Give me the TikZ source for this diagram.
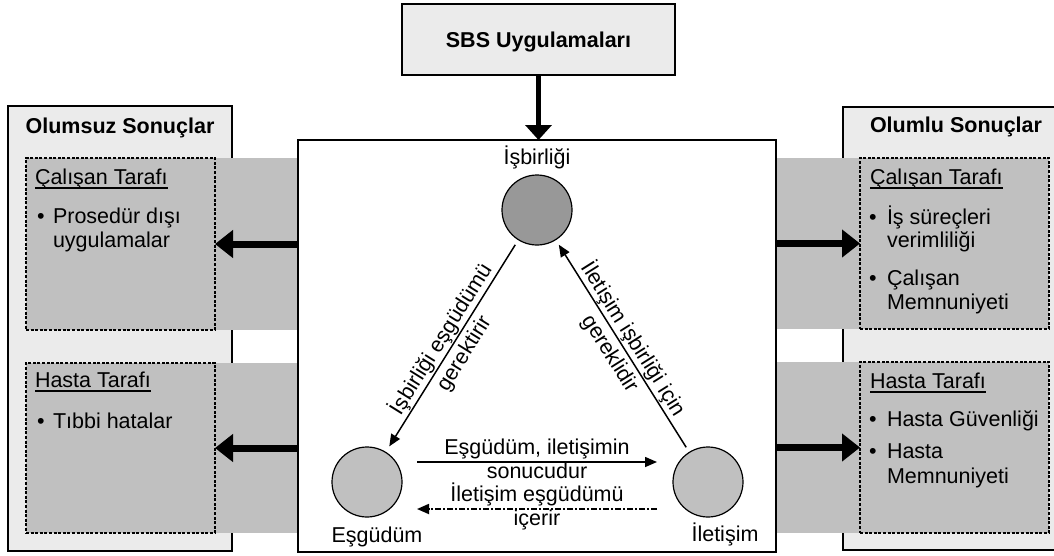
\documentclass[tikz,border=0pt]{standalone}
\usepackage{fontspec}
\setmainfont{Liberation Sans}
\usetikzlibrary{arrows.meta}

\definecolor{panelgray}{RGB}{235,235,235}
\definecolor{bandgray}{RGB}{192,192,192}
\definecolor{hubgray}{RGB}{152,152,152}
\definecolor{nodegray}{RGB}{192,192,192}

\begin{document}
\begin{tikzpicture}[x=1pt,y=-1pt,
  every node/.style={font=\fontsize{21.5}{24}\selectfont, inner sep=0pt, outer sep=0pt},
  panel/.style={draw, line width=2.8pt, fill=panelgray},
  sidebox/.style={draw, line width=2pt, dash pattern=on 3pt off 1.6pt, fill=bandgray, minimum width=189pt},
  band/.style={fill=bandgray},
  hub/.style={circle, draw, line width=1.2pt, minimum size=70pt},
  txt/.style={anchor=base west},
  ctxt/.style={anchor=base},
  paneltitle/.style={font=\fontsize{21.5}{24}\selectfont\bfseries, anchor=base},
  fatarrow/.style={line width=7pt, -{Triangle[length=18pt,width=27pt]}},
  relarrow/.style={line width=1.5pt, -{Triangle[length=12pt,width=10pt]}},
  slopelabel/.style={sloped, align=center, font=\fontsize{21.5}{27}\selectfont},
  ulrule/.style={line width=1.4pt},
]
\useasboundingbox (0,0) rectangle (1054,555);
\clip (0,0) rectangle (1054,555);

% outcome panels
\node[panel, minimum width=224pt, minimum height=445pt] (negpanel) at (120,328.5) {};
\node[panel, minimum width=225pt, minimum height=443pt] (pospanel) at (955.5,328.5) {};

% grey bands joining the core box to the outcome boxes
\fill[band] (120,158) rectangle (298,330);
\fill[band] (120,363) rectangle (298,533);
\fill[band] (776,158) rectangle (955,329);
\fill[band] (776,362) rectangle (955,533);

% core box
\node[draw, line width=2.8pt, fill=white, minimum width=478pt, minimum height=412pt] (core) at (537,346) {};

% outcome sub-boxes
\node[sidebox, minimum height=172pt] (negstaff) at (120.5,244) {};
\node[sidebox, minimum height=170pt] (negpat) at (120.5,448) {};
\node[sidebox, minimum height=171pt] (posstaff) at (954.5,243.5) {};
\node[sidebox, minimum height=171pt] (pospat) at (954.5,447.5) {};

% source box
\node[panel, minimum width=273pt, minimum height=71pt, text depth=0pt,
      font=\fontsize{21.5}{24}\selectfont\bfseries] (sbs) at (538.5,39.5) {SBS Uygulamaları};
\draw[line width=5pt, -{Triangle[length=15pt,width=26pt]}] (sbs.south) -- (sbs.south |- core.north);

% outcome arrows
\draw[fatarrow] (core.west |- negstaff.east) -- (negstaff.east);
\draw[fatarrow] (core.west |- negpat.east) -- (negpat.east);
\draw[fatarrow] (core.east |- posstaff.west) -- (posstaff.west);
\draw[fatarrow] (core.east |- pospat.west) -- (pospat.west);

% panel titles
\node[paneltitle] (negtitle) at (120,133) {Olumsuz Sonuçlar};
\node[paneltitle] (postitle) at (956,132) {Olumlu Sonuçlar};

% negative outcomes
\node[txt] (negstaffh) at (35,184) {Çalışan Tarafı};
\draw[ulrule] ([yshift=-4pt]negstaffh.base west) -- ([yshift=-4pt]negstaffh.base east);
\node[txt] (nb1) at (37,223) {•};
\node[txt] (ni1a) at (53,223) {Prosedür dışı};
\node[txt] (ni1b) at (53,247) {uygulamalar};
\node[txt] (negpath) at (35,387) {Hasta Tarafı};
\draw[ulrule] ([yshift=-4pt]negpath.base west) -- ([yshift=-4pt]negpath.base east);
\node[txt] (nb2) at (37,428) {•};
\node[txt] (ni2) at (53,428) {Tıbbi hatalar};

% positive outcomes
\node[txt] (posstaffh) at (870,184) {Çalışan Tarafı};
\draw[ulrule] ([yshift=-4pt]posstaffh.base west) -- ([yshift=-4pt]posstaffh.base east);
\node[txt] (pb1) at (869,224) {•};
\node[txt] (pi1a) at (887,224) {İş süreçleri};
\node[txt] (pi1b) at (887,247) {verimliliği};
\node[txt] (pb2) at (869,285) {•};
\node[txt] (pi2a) at (887,285) {Çalışan};
\node[txt] (pi2b) at (887,309) {Memnuniyeti};
\node[txt] (pospath) at (870,388) {Hasta Tarafı};
\draw[ulrule] ([yshift=-4pt]pospath.base west) -- ([yshift=-4pt]pospath.base east);
\node[txt] (pb3) at (869,426) {•};
\node[txt] (pi3) at (887,426) {Hasta Güvenliği};
\node[txt] (pb4) at (869,458) {•};
\node[txt] (pi4a) at (887,458) {Hasta};
\node[txt] (pi4b) at (887,483) {Memnuniyeti};

% triad
\node[hub, fill=hubgray] (coop) at (537,210) {};
\node[hub, fill=nodegray] (coord) at (367,482) {};
\node[hub, fill=nodegray] (comm) at (708,482) {};
\node[ctxt] (coopl) at (537,164) {İşbirliği};
\node[ctxt] (coordl) at (377,542) {Eşgüdüm};
\node[ctxt] (comml) at (725,541) {İletişim};

\draw[relarrow, shorten <=6pt, shorten >=7pt] (coop) --
  node[slopelabel] (reqlbl) {İşbirliği eşgüdümü\\gerektirir} (coord);
\draw[relarrow, shorten <=6pt, shorten >=6pt] (comm) --
  node[slopelabel] (needlbl) {İletişim işbirliği için\\gereklidir} (coop);

\draw[relarrow] ([xshift=15pt,yshift=20pt]coord.east) -- ([xshift=-16pt,yshift=20pt]comm.west);
\draw[relarrow, line width=1.8pt, dash pattern=on 6pt off 2pt on 2pt off 2pt]
  ([xshift=-16pt,yshift=-27pt]comm.west) -- ([xshift=15pt,yshift=-27pt]coord.east);

\node[ctxt] (fwd1) at (537,454) {Eşgüdüm, iletişimin};
\node[ctxt] (fwd2) at (537,478) {sonucudur};
\node[ctxt] (bwd1) at (537,501) {İletişim eşgüdümü};
\node[ctxt] (bwd2) at (537,525) {içerir};
\end{tikzpicture}
\end{document}
